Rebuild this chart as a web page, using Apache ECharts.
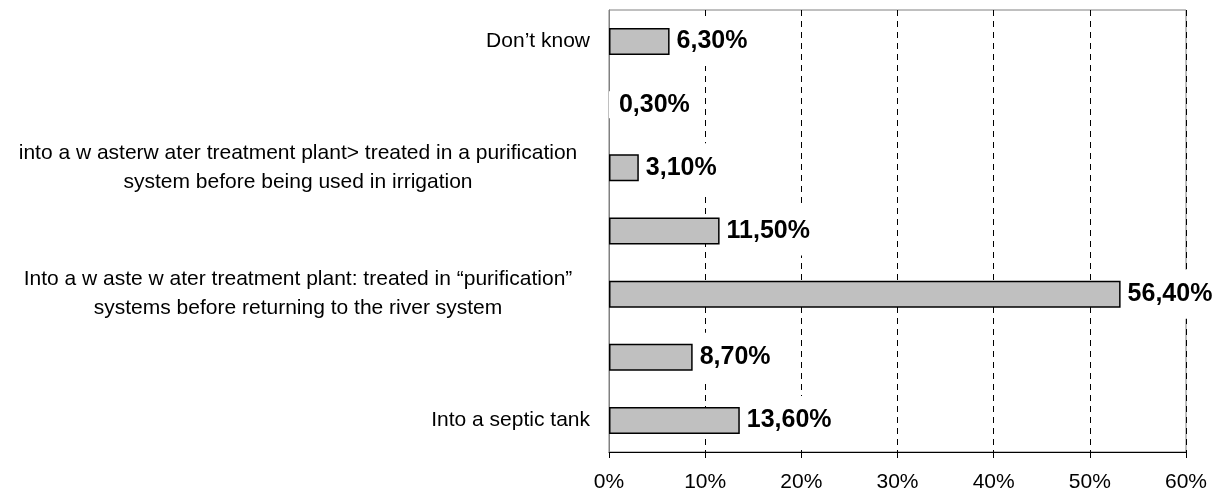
<!DOCTYPE html>
<html>
<head>
<meta charset="utf-8">
<script src="https://cdn.jsdelivr.net/npm/echarts@6/dist/echarts.min.js"></script>
<style>html,body{margin:0;padding:0;background:#fff}#c{width:1229px;height:496px}</style>
</head>
<body>
<div id="c"></div>
<script>
// Categories from bottom to top
var categories = [
  "Into a septic tank",
  "",
  "Into a w aste w ater treatment plant: treated in \u201cpurification\u201d\nsystems before returning to the river system",
  "",
  "into a w asterw ater treatment plant> treated in a purification\nsystem before being used in irrigation",
  "",
  "Don\u2019t know"
];
// bar lengths as drawn in the picture (percent)
var values = [13.6, 8.7, 53.2, 11.5, 3.1, 0.3, 6.3];
// data label texts as printed in the picture
var labelTexts = ["13,60%", "8,70%", "56,40%", "11,50%", "3,10%", "0,30%", "6,30%"];
var xTicks = [0, 10, 20, 30, 40, 50, 60];

var chart = echarts.init(document.getElementById('c'), null, {renderer: 'canvas'});
var font = '"Liberation Sans", Arial, sans-serif';

var barData = values.map(function (v, i) {
  var d = {value: v};
  if (v < 1) d.itemStyle = {color: '#fff', borderWidth: 0};
  return d;
});

chart.setOption({
  animation: false,
  backgroundColor: '#fff',
  grid: {left: 609, right: 43, top: 10, bottom: 44, show: true, borderColor: '#808080', borderWidth: 1},
  xAxis: {
    type: 'value', min: xTicks[0], max: xTicks[xTicks.length - 1], interval: 10,
    axisLine: {show: true, lineStyle: {color: '#000', width: 1}},
    axisTick: {show: true, length: 6, lineStyle: {color: '#000'}},
    axisLabel: {formatter: function (v) { return v + '%'; }, color: '#000', fontSize: 21, fontFamily: font, margin: 20},
    splitLine: {show: true, lineStyle: {color: '#000', type: [6, 5], width: 1}}
  },
  yAxis: {
    type: 'category', data: categories,
    axisLine: {show: true, lineStyle: {color: '#808080'}},
    axisTick: {show: false},
    axisLabel: {
      color: '#000', fontSize: 21, fontFamily: font, margin: 19, align: 'right',
      formatter: function (v) {
        if (v.indexOf('\n') < 0) return v;
        return v.split('\n').map(function (l) { return '{c|' + l + '}'; }).join('\n');
      },
      rich: {c: {width: 584, align: 'center', fontSize: 21, fontFamily: font, color: '#000', lineHeight: 29}}
    }
  },
  series: [{
    type: 'bar', data: barData, barWidth: 27, z: 2,
    itemStyle: {color: '#c0c0c0', borderColor: '#000', borderWidth: 1.5},
    label: {
      show: true, position: 'right', distance: 4,
      formatter: function (p) { return labelTexts[p.dataIndex]; },
      color: '#000', fontSize: 25, fontWeight: 'bold', fontFamily: font,
      backgroundColor: '#fff', padding: [12, 3, 12, 3]
    }
  }]
});
</script>
</body>
</html>
